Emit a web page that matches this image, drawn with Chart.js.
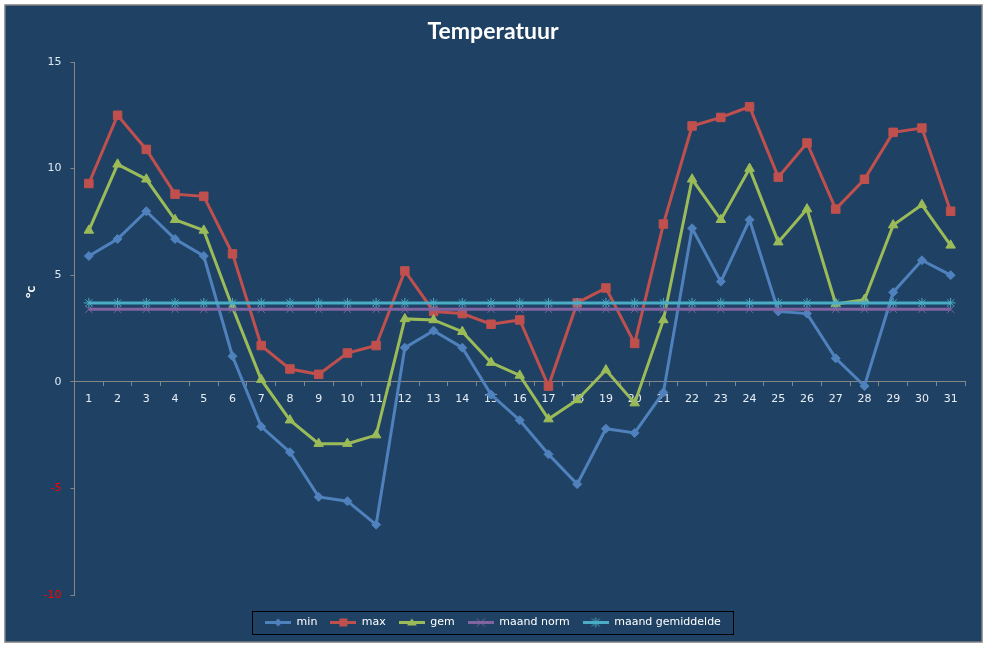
<!DOCTYPE html>
<html>
<head>
<meta charset="utf-8">
<title>Temperatuur</title>
<script src="https://cdn.jsdelivr.net/npm/chart.js@4/dist/chart.umd.min.js"></script>
<style>
  html, body { margin: 0; padding: 0; background: #fff; }
  #wrap { width: 987px; height: 648px; position: relative; }
</style>
</head>
<body>
<div id="wrap"><canvas id="temp-chart"></canvas></div>
<script>
// dagen van de maand
const days = ['1','2','3','4','5','6','7','8','9','10','11','12','13','14','15','16',
              '17','18','19','20','21','22','23','24','25','26','27','28','29','30','31'];

const minTemp = [5.9, 6.7, 8.0, 6.7, 5.9, 1.2, -2.1, -3.3, -5.4, -5.6, -6.7, 1.6, 2.4, 1.6, -0.6, -1.8,
                 -3.4, -4.8, -2.2, -2.4, -0.5, 7.2, 4.7, 7.6, 3.3, 3.2, 1.1, -0.2, 4.2, 5.7, 5.0];
const maxTemp = [9.3, 12.5, 10.9, 8.8, 8.7, 6.0, 1.7, 0.6, 0.35, 1.35, 1.7, 5.2, 3.3, 3.2, 2.7, 2.9,
                 -0.2, 3.7, 4.4, 1.8, 7.4, 12.0, 12.4, 12.9, 9.6, 11.2, 8.1, 9.5, 11.7, 11.9, 8.0];
const gemTemp = [7.1, 10.2, 9.5, 7.6, 7.1, 3.5, 0.1, -1.8, -2.9, -2.9, -2.5, 2.95, 2.9, 2.35, 0.9, 0.3,
                 -1.75, -0.85, 0.55, -1.0, 2.9, 9.5, 7.6, 10.0, 6.55, 8.1, 3.65, 3.85, 7.35, 8.3, 6.4];
const maandNorm = [3.4, 3.4, 3.4, 3.4, 3.4, 3.4, 3.4, 3.4, 3.4, 3.4, 3.4, 3.4, 3.4, 3.4, 3.4, 3.4,
                   3.4, 3.4, 3.4, 3.4, 3.4, 3.4, 3.4, 3.4, 3.4, 3.4, 3.4, 3.4, 3.4, 3.4, 3.4];
const maandGem = [3.7, 3.7, 3.7, 3.7, 3.7, 3.7, 3.7, 3.7, 3.7, 3.7, 3.7, 3.7, 3.7, 3.7, 3.7, 3.7,
                  3.7, 3.7, 3.7, 3.7, 3.7, 3.7, 3.7, 3.7, 3.7, 3.7, 3.7, 3.7, 3.7, 3.7, 3.7];

const yTicks = [-10, -5, 0, 5, 10, 15];

const BLUE = '#4F81BD', RED = '#C0504D', GREEN = '#9BBB59', PURPLE = '#8064A2', CYAN = '#4BACC6';
const BG = '#1F4264';

// legend icon: line with the marker in the middle (excel style)
function legendIcon(color, marker) {
  const cv = document.createElement('canvas');
  cv.width = 26; cv.height = 12;
  const c = cv.getContext('2d');
  c.fillStyle = color; c.strokeStyle = color;
  c.fillRect(0, 5, 26, 3);
  const x = 13, y = 6.5;
  c.beginPath();
  if (marker === 'diamond') {
    c.moveTo(x, y - 4); c.lineTo(x + 4, y); c.lineTo(x, y + 4); c.lineTo(x - 4, y); c.closePath(); c.fill();
  } else if (marker === 'square') {
    c.fillRect(x - 4, y - 4, 8, 8);
  } else if (marker === 'triangle') {
    c.moveTo(x, y - 4); c.lineTo(x + 5, y + 3); c.lineTo(x - 5, y + 3); c.closePath(); c.fill();
  } else {
    c.lineWidth = 1;
    c.moveTo(x - 4, y - 4); c.lineTo(x + 4, y + 4);
    c.moveTo(x + 4, y - 4); c.lineTo(x - 4, y + 4);
    if (marker === 'star') { c.moveTo(x, y - 5); c.lineTo(x, y + 5); }
    c.stroke();
  }
  return cv;
}
const icons = [legendIcon(BLUE, 'diamond'), legendIcon(RED, 'square'), legendIcon(GREEN, 'triangle'),
               legendIcon(PURPLE, 'cross'), legendIcon(CYAN, 'star')];

function serie(label, data, color, pointStyle, radius, order) {
  return {
    label, data, order,
    borderColor: color, backgroundColor: color,
    borderWidth: 3, tension: 0,
    pointStyle, pointRadius: radius, pointHoverRadius: radius,
    pointBackgroundColor: color, pointBorderColor: color, pointBorderWidth: 1
  };
}

const frame = {
  id: 'frame',
  beforeDraw(chart) {
    const c = chart.ctx;
    c.save();
    c.fillStyle = '#ffffff';
    c.fillRect(0, 0, chart.width, chart.height);
    c.fillStyle = BG;
    c.fillRect(5, 5, 977, 637);
    c.strokeStyle = '#7F7F7F';
    c.lineWidth = 1.5;
    c.strokeRect(5, 5, 977, 637);
    c.restore();
  },
  afterDraw(chart) {
    const c = chart.ctx;
    const boxes = chart.legend.legendHitBoxes;
    c.save();
    if (boxes && boxes.length) {
      const left = Math.min(...boxes.map(b => b.left)) - 13;
      const right = Math.max(...boxes.map(b => b.left + b.width)) + 12;
      const cy = boxes[0].top + boxes[0].height / 2;
      c.strokeStyle = '#000000';
      c.lineWidth = 1;
      c.strokeRect(Math.round(left) + 0.5, Math.round(cy - 11.5) + 0.5, Math.round(right - left), 23);
    }
    // as-titel
    c.translate(30, 292);
    c.rotate(-Math.PI / 2);
    c.fillStyle = '#ffffff';
    c.font = 'bold 14px Lato';
    c.textAlign = 'center';
    c.textBaseline = 'middle';
    c.fillText('°c', 0, 0);
    c.restore();
  }
};

new Chart(document.getElementById('temp-chart'), {
  type: 'line',
  data: {
    labels: days,
    datasets: [
      serie('min', minTemp, BLUE, 'rectRot', 4.5, 5),
      serie('max', maxTemp, RED, 'rect', 6, 4),
      serie('gem', gemTemp, GREEN, 'triangle', 5.5, 3),
      serie('maand norm', maandNorm, PURPLE, 'crossRot', 5, 2),
      serie('maand gemiddelde', maandGem, CYAN, 'star', 5, 1)
    ]
  },
  options: {
    responsive: true,
    maintainAspectRatio: false,
    animation: false,
    layout: { padding: { left: 21, right: 22, top: 5, bottom: 10.5 } },
    plugins: {
      title: {
        display: true,
        text: 'Temperatuur',
        color: '#ffffff',
        font: { family: 'Lato', size: 23, weight: 'bold' },
        padding: { top: 12.5, bottom: 16.9 }
      },
      legend: {
        position: 'bottom',
        labels: {
          color: '#ffffff',
          font: { family: 'DejaVu Sans', size: 11 },
          usePointStyle: true,
          pointStyleWidth: 26,
          padding: 13,
          sort: (a, b) => a.datasetIndex - b.datasetIndex,
          generateLabels(chart) {
            const items = Chart.defaults.plugins.legend.labels.generateLabels(chart);
            items.forEach(it => { it.pointStyle = icons[it.datasetIndex]; });
            return items;
          }
        }
      },
      tooltip: { enabled: false }
    },
    scales: {
      x: {
        position: { y: 0 },
        offset: true,
        grid: { display: true, offset: true, drawOnChartArea: false, drawTicks: true, tickLength: 4, color: '#868686' },
        border: { display: true, color: '#868686', width: 1 },
        ticks: {
          color: '#E8EEF6',
          font: { family: 'DejaVu Sans', size: 11 },
          padding: 7,
          autoSkip: false,
          maxRotation: 0
        }
      },
      x2: {
        type: 'category',
        position: 'bottom',
        display: true,
        grid: { display: false },
        border: { display: false },
        ticks: { display: false },
        afterFit(scale) { scale.height = 8.5; }
      },
      y: {
        min: -10,
        max: 15,
        afterFit(scale) { scale.width = 53.5; },
        afterBuildTicks(scale) { scale.ticks = yTicks.map(v => ({ value: v })); },
        grid: { display: true, drawOnChartArea: false, drawTicks: true, tickLength: 4, color: '#868686' },
        border: { display: true, color: '#868686', width: 1 },
        ticks: {
          padding: 9,
          font: { family: 'DejaVu Sans', size: 11 },
          color: ctx => (ctx.tick && ctx.tick.value < 0 ? '#FF0000' : '#DDE8F5')
        }
      }
    }
  },
  plugins: [frame]
});
</script>
</body>
</html>
